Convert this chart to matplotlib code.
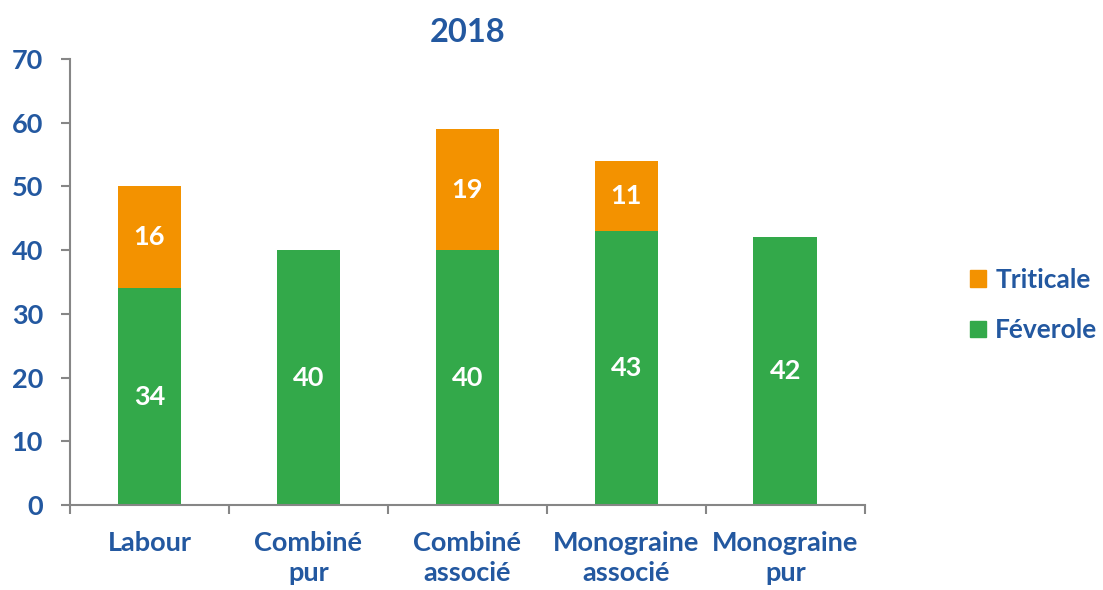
import numpy as np
import matplotlib.pyplot as plt
from matplotlib.patches import Patch

categories = ["Labour", "Combiné\npur", "Combiné\nassocié", "Monograine\nassocié", "Monograine\npur"]
feverole = [34, 40, 40, 43, 42]
triticale = [16, 0, 19, 11, 0]

blue = "#2358A0"
green = "#33A94A"
orange = "#F39200"
grey = "#868686"

plt.rcParams["font.family"] = ["Lato", "DejaVu Sans"]
plt.rcParams["font.weight"] = "bold"
fs = 19.5

fig = plt.figure(figsize=(11.03, 5.90), dpi=100)
ax = fig.add_axes([0.0635, 0.144, 0.7205, 0.756])

x = np.arange(len(categories))
width = 0.4
ax.bar(x, feverole, width, color=green, label="Féverole")
ax.bar(x, triticale, width, bottom=feverole, color=orange, label="Triticale")

# labels in the bars
for i in range(len(categories)):
    ax.text(x[i], feverole[i] / 2, str(feverole[i]), ha="center", va="center",
            color="white", fontsize=fs, fontweight="bold")
    if triticale[i] > 0:
        ax.text(x[i], feverole[i] + triticale[i] / 2, str(triticale[i]), ha="center",
                va="center", color="white", fontsize=fs, fontweight="bold")

ax.set_xlim(-0.5, len(categories) - 0.5)
ax.set_ylim(0, 70)
ax.set_yticks(range(0, 71, 10))
ax.set_xticks(x)
ax.set_xticklabels(categories, color=blue, fontsize=fs, fontweight="bold", linespacing=1.3)
ax.set_xticks(np.arange(-0.5, len(categories)), minor=True)
ax.tick_params(axis="x", which="major", length=0, pad=19)
ax.tick_params(axis="x", which="minor", length=6.5, color=grey, width=1.5)
ax.tick_params(axis="y", length=6.5, color=grey, width=1.5, labelcolor=blue, labelsize=fs, pad=13)
for lab in ax.get_yticklabels():
    lab.set_fontweight("bold")

for s in ["top", "right"]:
    ax.spines[s].set_visible(False)
for s in ["left", "bottom"]:
    ax.spines[s].set_color(grey)
    ax.spines[s].set_linewidth(1.5)

ax.set_title("2018", color=blue, fontsize=23.5, fontweight="bold", pad=12)

handles = [Patch(color=orange, label="Triticale"), Patch(color=green, label="Féverole")]
fig.legend(handles=handles, loc="center left", bbox_to_anchor=(0.858, 0.483), frameon=False,
           fontsize=19, labelcolor=blue, handlelength=0.6, handleheight=0.6,
           handletextpad=0.35, labelspacing=1.0)

fig.savefig("out.png", dpi=100)
